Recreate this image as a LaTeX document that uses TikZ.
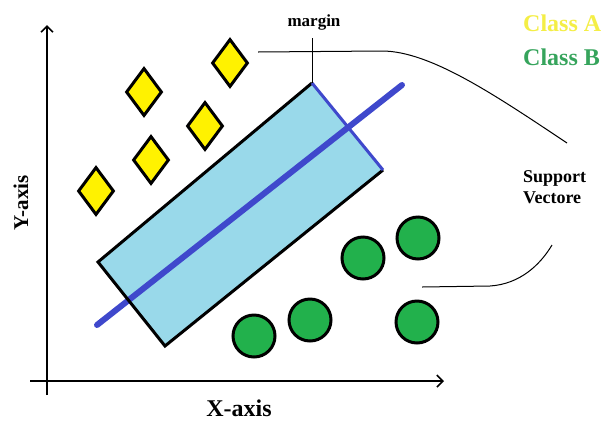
\documentclass[tikz,border=0pt]{standalone}
\usepackage{fontspec}
\setmainfont{Liberation Serif}
\usetikzlibrary{shapes.geometric,arrows.meta}
\definecolor{classA}{HTML}{FFF200}
\definecolor{classAText}{HTML}{F4EE46}
\definecolor{classB}{HTML}{22B14C}
\definecolor{classBText}{HTML}{36A45C}
\definecolor{marginFill}{HTML}{99D9EA}
\definecolor{hyperLine}{HTML}{3F48CC}

\begin{document}
\begin{tikzpicture}[
    x=1pt, y=-1pt,
    font=\bfseries,
    axis/.style={line width=2.4pt, -{Straight Barb[length=6pt,width=12pt,line width=1.6pt]}},
    pointA/.style={diamond, draw=black, fill=classA, line width=3pt,
                   minimum width=36pt, minimum height=48pt, inner sep=0pt},
    pointB/.style={circle, draw=black, fill=classB, line width=3pt,
                   minimum size=42pt, inner sep=0pt},
    edge/.style={line width=3pt, line join=miter},
    pointer/.style={line width=1pt},
    legend/.style={anchor=base west, inner sep=0pt, font=\fontsize{24}{28}\selectfont\bfseries},
  ]
  \useasboundingbox (0,0) rectangle (604,421);

  % AXES
  \coordinate (yfoot) at (47,395);
  \coordinate (ytip)  at (47,25);
  \coordinate (xfoot) at (30,381);
  \coordinate (xtip)  at (444,381);
  \draw[axis] (yfoot) -- (ytip);
  \draw[axis] (xfoot) -- (xtip);
  \node[anchor=base, inner sep=0pt, font=\fontsize{24}{28}\selectfont\bfseries] (xlab) at (239,416) {X-axis};
  \node[anchor=base, rotate=90, inner sep=0pt, font=\fontsize{21}{25}\selectfont\bfseries] (ylab) at (28,203) {Y-axis};

  % MARGIN BAND
  \coordinate (L) at (98,262);
  \coordinate (T) at (312,83);
  \coordinate (R) at (383,170);
  \coordinate (B) at (165,346);
  \fill[marginFill] (L) -- (T) -- (R) -- (B) -- cycle;
  \coordinate (hs) at (97,325);
  \coordinate (he) at (402,85);
  \draw[hyperLine, line width=6pt, line cap=round] (hs) -- (he);
  \draw[edge] (R) -- (B) -- (L) -- (T);
  \draw[edge, hyperLine] (T) -- (R);

  % CLASS A
  \node[pointA] (a1) at (230,63) {};
  \node[pointA] (a2) at (144,92) {};
  \node[pointA] (a3) at (205,126) {};
  \node[pointA] (a4) at (151,160) {};
  \node[pointA] (a5) at (96,191) {};

  % CLASS B
  \node[pointB] (b1) at (363,258) {};
  \node[pointB] (b2) at (418,238) {};
  \node[pointB] (b3) at (417,322) {};
  \node[pointB] (b4) at (310,320) {};
  \node[pointB] (b5) at (254,336) {};

  % LABELS
  \node[anchor=base, inner sep=0pt, font=\fontsize{17}{20}\selectfont\bfseries] (mlab) at (314,26) {margin};
  \coordinate (mtop) at (312,38);
  \draw[pointer] (mtop) -- (T);
  \node[legend, text=classAText] (legA) at (523,31) {Class A};
  \node[legend, text=classBText] (legB) at (523,65) {Class B};
  \node[anchor=base west, inner sep=0pt, align=left,
        font=\fontsize{18}{21}\selectfont\bfseries] (sv) at (523,203) {Support\\Vectore};

  % SUPPORT VECTOR POINTERS
  \coordinate (s1) at (258,52);
  \coordinate (s1k) at (382,51);
  \coordinate (s1e) at (567,143);
  \draw[pointer] (s1) -- (s1k) .. controls (430,51) and (495,95) .. (s1e);
  \coordinate (s2) at (422,287);
  \coordinate (s2k) at (490,286);
  \coordinate (s2e) at (552,245);
  \draw[pointer] (s2) -- (s2k) .. controls (520,284) and (540,265) .. (s2e);

\end{tikzpicture}
\end{document}
